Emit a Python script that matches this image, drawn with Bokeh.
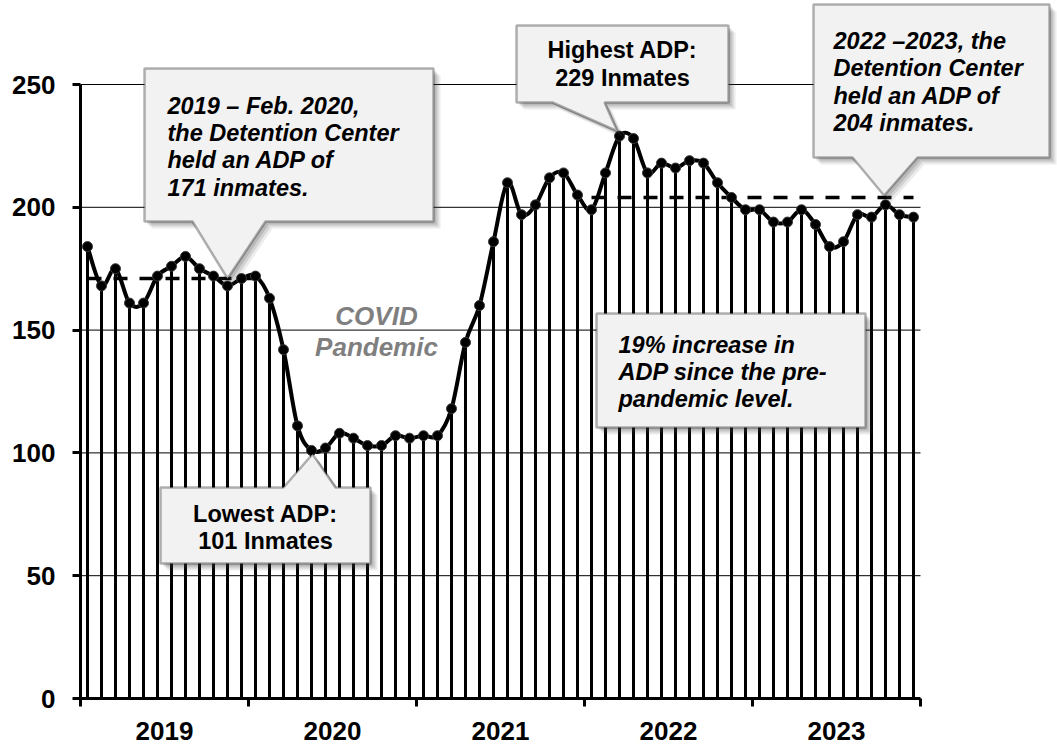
import numpy as np
from bokeh.plotting import figure
from bokeh.models import Range1d, FixedTicker, PolyAnnotation, Label
from bokeh.embed import file_html
from bokeh.resources import INLINE

# ---------------- data ----------------
years = ["2019", "2020", "2021", "2022", "2023"]
adp_2019 = [184, 168, 175, 161, 161, 172, 176, 180, 175, 172, 168, 171]
adp_2020 = [172, 163, 142, 111, 101, 102, 108, 106, 103, 103, 107, 106]
adp_2021 = [107, 107, 118, 145, 160, 186, 210, 197, 201, 212, 214, 205]
adp_2022 = [199, 214, 229, 228, 214, 218, 216, 219, 218, 210, 204, 199]
adp_2023 = [199, 194, 194, 199, 193, 184, 186, 197, 196, 201, 197, 196]
avg_pre = 171      # 2019 - Feb. 2020
avg_post = 204     # 2022 - 2023
pre_months = 14    # Jan 2019 .. Feb 2020
post_first = 36    # Jan 2022
y_ticks = [0, 50, 100, 150, 200, 250]

adp = adp_2019 + adp_2020 + adp_2021 + adp_2022 + adp_2023
n = len(adp)
x = np.arange(n) + 0.5
y = np.array(adp, dtype=float)

# ---------------- layout (pixels) ----------------
W, H = 1057, 748
PL, PR, PT, PB = 80, 920, 84, 698          # plotting area inside the canvas
YMAX = 250
kx = (PR - PL) / n                          # px per month
ky = (PB - PT) / YMAX                       # px per unit

x_start = -PL / kx
x_end = x_start + W / kx
y_end = YMAX + PT / ky
y_start = y_end - H / ky

FONT = "Liberation Sans"

p = figure(width=W, height=H, output_backend="svg", toolbar_location=None,
           x_range=Range1d(x_start, x_end), y_range=Range1d(y_start, y_end),
           min_border=0, min_border_left=0, min_border_right=0,
           min_border_top=0, min_border_bottom=0)
p.outline_line_color = None
p.background_fill_color = "white"
p.border_fill_color = "white"
p.xgrid.grid_line_color = None
p.ygrid.grid_line_color = None

# y axis
p.yaxis.fixed_location = 0
p.yaxis.bounds = (0, YMAX)
p.yaxis.ticker = FixedTicker(ticks=y_ticks)
p.yaxis.axis_line_width = 3
p.yaxis.major_tick_line_width = 3
p.yaxis.major_tick_out = 8
p.yaxis.major_tick_in = 0
p.yaxis.minor_tick_line_color = None
p.yaxis.major_label_standoff = 17
p.yaxis.major_label_text_font = FONT
p.yaxis.major_label_text_font_size = "26px"
p.yaxis.major_label_text_font_style = "bold"
p.yaxis.major_label_text_color = "black"

# x axis: labels at year centres, ticks at year boundaries
centres = [12 * i + 6 for i in range(len(years))]
bounds = [12 * i for i in range(len(years) + 1)]
p.xaxis.fixed_location = 0
p.xaxis.bounds = (0, n)
p.xaxis.ticker = FixedTicker(ticks=centres, minor_ticks=bounds)
p.xaxis.major_label_overrides = {c: yr for c, yr in zip(centres, years)}
p.xaxis.axis_line_width = 3
p.xaxis.major_tick_out = 0
p.xaxis.major_tick_in = 0
p.xaxis.major_tick_line_color = None
p.xaxis.minor_tick_out = 8
p.xaxis.minor_tick_in = 0
p.xaxis.minor_tick_line_width = 3
p.xaxis.minor_tick_line_color = "black"
p.xaxis.major_label_standoff = 15
p.xaxis.major_label_text_font = FONT
p.xaxis.major_label_text_font_size = "26px"
p.xaxis.major_label_text_font_style = "bold"
p.xaxis.major_label_text_color = "black"

# horizontal grid lines at the y ticks, spanning the plotted months
gy = [t for t in y_ticks if t > 0]
p.segment(x0=[0] * len(gy), y0=gy, x1=[n] * len(gy), y1=gy, line_width=1,
          line_color="black")

# drop lines
p.segment(x0=x, y0=np.zeros(n), x1=x, y1=y, line_width=3, line_color="black")

# average dashed lines
p.line(x[:pre_months], [avg_pre] * pre_months, line_width=3.5, line_color="black",
       line_dash="14 12")
p.line(x[post_first:], [avg_post] * (n - post_first), line_width=3.5,
       line_color="black", line_dash="14 12")

# smoothed line (Bezier segments through the points)
pts = np.column_stack([x, y])
x0s, y0s, x1s, y1s, cx0, cy0, cx1, cy1 = [], [], [], [], [], [], [], []
for i in range(n - 1):
    P0 = pts[i - 1] if i > 0 else pts[i]
    P1 = pts[i]
    P2 = pts[i + 1]
    P3 = pts[i + 2] if i + 2 < n else pts[i + 1]
    c1 = P1 + (P2 - P0) / 6.0
    c2 = P2 - (P3 - P1) / 6.0
    x0s.append(P1[0]); y0s.append(P1[1]); x1s.append(P2[0]); y1s.append(P2[1])
    cx0.append(c1[0]); cy0.append(c1[1]); cx1.append(c2[0]); cy1.append(c2[1])
p.bezier(x0=x0s, y0=y0s, x1=x1s, y1=y1s, cx0=cx0, cy0=cy0, cx1=cx1, cy1=cy1,
         line_width=4, line_color="black", line_cap="round")
p.scatter(x, y, size=10, fill_color="black", line_color="#3a3a3a", line_width=1)

# ---------------- annotations ----------------
def px_x(px):
    return (px - PL) / kx


def px_y(py):
    return (PB - py) / ky


def callout(L, R, T, B, base=None, tip=None, side="bottom"):
    if base is None:
        pts_px = [(L, T), (R, T), (R, B), (L, B)]
    else:
        b1, b2 = base
        if side == "bottom":
            pts_px = [(L, T), (R, T), (R, B), (b2, B), "tip", (b1, B), (L, B)]
        else:
            pts_px = [(L, T), (b1, T), "tip", (b2, T), (R, T), (R, B), (L, B)]
    xs, ys = [], []
    for pt in pts_px:
        if pt == "tip":
            xs.append(tip[0]); ys.append(tip[1])
        else:
            xs.append(px_x(pt[0])); ys.append(px_y(pt[1]))
    # soft shadow
    for off, alpha in [(7, 0.10), (5, 0.14), (3, 0.18)]:
        dx = off / kx
        dy = off / ky
        p.add_layout(PolyAnnotation(xs=[v + dx for v in xs], ys=[v - dy for v in ys],
                                    fill_color="#404040", fill_alpha=alpha,
                                    line_color=None))
    p.add_layout(PolyAnnotation(xs=xs, ys=ys, fill_color="#f2f2f2", fill_alpha=1,
                                line_color="black", line_width=2.5))


def lines(texts, px, pys, align="left", style="bold italic", size="23.5px",
          color="black"):
    for t, py in zip(texts, pys):
        p.add_layout(Label(x=px_x(px), y=px_y(py), text=t, text_font=FONT,
                           text_font_size=size, text_font_style=style,
                           text_color=color, text_align=align,
                           text_baseline="middle"))


imax = int(np.argmax(y))
imin = int(np.argmin(y))

# 2019 - Feb 2020 callout
callout(144, 433, 68, 221, base=(192, 265), tip=(10.5, avg_pre))
lines(["2019 \u2013 Feb. 2020,", "the Detention Center", "held an ADP of",
       "171 inmates."], 167, [105, 132, 159, 187])

# highest
callout(516, 728, 25, 102, base=(552, 604), tip=(x[imax] - 0.15, y[imax] + 2))
lines(["Highest ADP:", "229 Inmates"], 622, [49, 77], align="center", style="bold")

# 2022 - 2023
callout(813, 1049, 4, 157, base=(852, 917), tip=(57.4, avg_post + 0.8))
lines(["2022 \u20132023, the", "Detention Center", "held an ADP of",
       "204 inmates."], 833, [40, 67, 95, 122])

# lowest
callout(160, 370, 487, 563, base=(283, 335), tip=(x[imin] + 0.07, y[imin] - 1.5),
        side="top")
lines(["Lowest ADP:", "101 Inmates"], 265, [513, 540], align="center", style="bold")

# 19% increase
callout(596, 865, 313, 427)
lines(["19% increase in", "ADP since the pre-", "pandemic level."], 618,
      [344, 371, 398])

# COVID pandemic
lines(["COVID", "Pandemic"], 376, [315, 346], align="center", style="bold italic",
      size="26px", color="#7f7f7f")

open("out.html", "w").write(file_html(p, INLINE))
